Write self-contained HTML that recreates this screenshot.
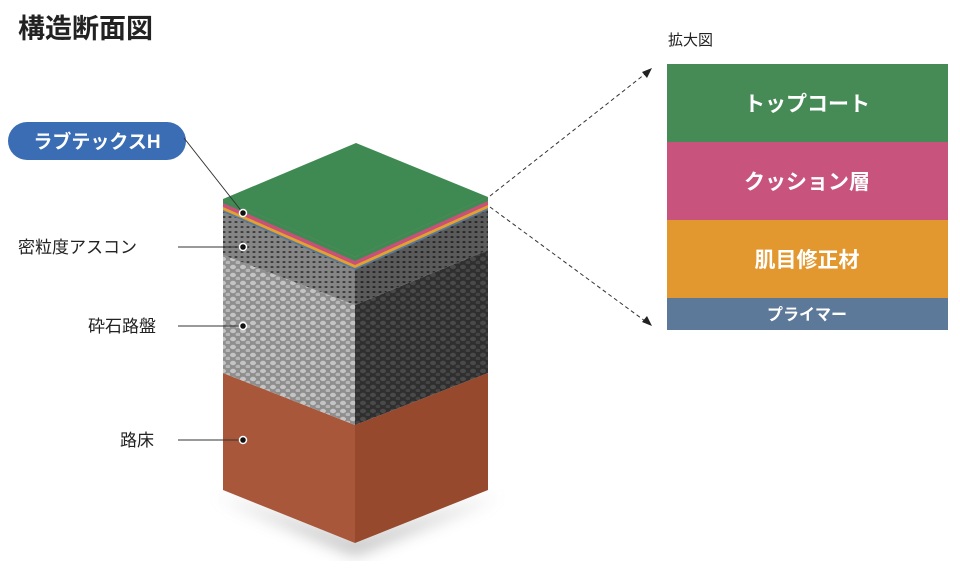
<!DOCTYPE html>
<html><head><meta charset="utf-8"><style>
body{margin:0;background:#fff;width:960px;height:567px;overflow:hidden;font-family:"Liberation Sans","Noto Sans CJK JP",sans-serif}
</style></head><body>
<svg width="960" height="567" viewBox="0 0 960 567" xmlns="http://www.w3.org/2000/svg" style="font-family:'Liberation Sans','Noto Sans CJK JP',sans-serif">
<defs>
<filter id="blur"><feGaussianBlur stdDeviation="8"/></filter>
<pattern id="peb" width="10" height="8" patternUnits="userSpaceOnUse">
<rect width="10" height="8" fill="#8e8e8e"/><ellipse cx="3" cy="3" rx="3" ry="2.2" fill="#c4c4c4"/><ellipse cx="8" cy="6.5" rx="2.5" ry="1.8" fill="#b8b8b8"/></pattern>
<pattern id="pebd" width="10" height="8" patternUnits="userSpaceOnUse">
<rect width="10" height="8" fill="#2f2f2f"/><ellipse cx="3" cy="3" rx="3" ry="2.2" fill="#4a4a4a"/><ellipse cx="8" cy="6.5" rx="2.5" ry="1.8" fill="#444"/></pattern>
<pattern id="asp" width="6" height="5" patternUnits="userSpaceOnUse">
<rect width="6" height="5" fill="#858585"/><ellipse cx="2" cy="2" rx="1.6" ry="1" fill="#3a3a3a"/></pattern>
<pattern id="aspd" width="6" height="5" patternUnits="userSpaceOnUse">
<rect width="6" height="5" fill="#5a5a5a"/><ellipse cx="2" cy="2" rx="1.6" ry="1" fill="#262626"/></pattern>
</defs>
<text x="18" y="38" font-size="27" font-weight="bold" fill="#222">構造断面図</text>
<!-- shadow -->
<polygon points="215,495 355,555 500,495 355,540" fill="#777" opacity="0.5" filter="url(#blur)"/>
<!-- soil -->
<polygon points="223,373 355,425 355,543 223,490" fill="#a9573a"/>
<polygon points="355,425 488,373 488,490 355,543" fill="#97492e"/>
<!-- gravel -->
<polygon points="223,255 355,305 355,425 223,373" fill="url(#peb)"/>
<polygon points="355,305 488,250 488,373 355,425" fill="url(#pebd)"/>
<!-- asphalt -->
<polygon points="223,210 355,268 355,305 223,255" fill="url(#asp)"/>
<polygon points="355,268 488,209 488,250 355,305" fill="url(#aspd)"/>
<!-- thin layers -->
<polygon points="223,199 355,257 488,197 488,210 355,270 223,212" fill="#5b7a9a"/>
<polygon points="223,199 355,257 488,197 488,208 355,268 223,210" fill="#e3a22e"/>
<polygon points="223,199 355,257 488,197 488,205 355,265 223,207" fill="#c95079"/>
<polygon points="223,199 355,257 488,197 488,201 355,261 223,203" fill="#3e8a52"/>
<!-- top -->
<polygon points="223,199 356,143 488,197 355,257" fill="#3f8a52"/>
<!-- labels -->
<rect x="8" y="122" width="178" height="38" rx="19" fill="#3a6db4"/>
<text x="97" y="148" font-size="19" font-weight="bold" fill="#fff" text-anchor="middle">ラブテックスH</text>
<line x1="184" y1="138" x2="243" y2="213" stroke="#333" stroke-width="1"/>
<line x1="178" y1="247" x2="243" y2="247" stroke="#333"/>
<line x1="178" y1="326" x2="243" y2="326" stroke="#333"/>
<line x1="178" y1="440" x2="243" y2="440" stroke="#333"/>
<g fill="#111" stroke="#fff" stroke-width="1.5">
<circle cx="243" cy="213" r="3.5"/><circle cx="243" cy="247" r="3.5"/><circle cx="243" cy="326" r="3.5"/><circle cx="243" cy="440" r="3.5"/></g>
<text x="18" y="253" font-size="17" fill="#222">密粒度アスコン</text>
<text x="88" y="332" font-size="17" fill="#222">砕石路盤</text>
<text x="120" y="446" font-size="17" fill="#222">路床</text>
<!-- dashed -->
<line x1="490" y1="196" x2="645" y2="74" stroke="#333" stroke-dasharray="4,3"/>
<polygon points="652,68 642,72 647,78" fill="#222"/>
<line x1="490" y1="207" x2="645" y2="321" stroke="#333" stroke-dasharray="4,3"/>
<polygon points="652,326 642,322 647,316" fill="#222"/>
<!-- enlarged -->
<text x="668" y="45" font-size="15" fill="#222">拡大図</text>
<rect x="667" y="64" width="281" height="78" fill="#468a56"/>
<rect x="667" y="142" width="281" height="78" fill="#c8547d"/>
<rect x="667" y="220" width="281" height="78" fill="#e3982f"/>
<rect x="667" y="298" width="281" height="32" fill="#5d7999"/>
<g fill="#fff" font-weight="bold" text-anchor="middle">
<text x="807" y="111" font-size="21">トップコート</text>
<text x="807" y="189" font-size="21">クッション層</text>
<text x="807" y="267" font-size="21">肌目修正材</text>
<text x="807" y="320" font-size="16">プライマー</text>
</g>
</svg>
</body></html>
